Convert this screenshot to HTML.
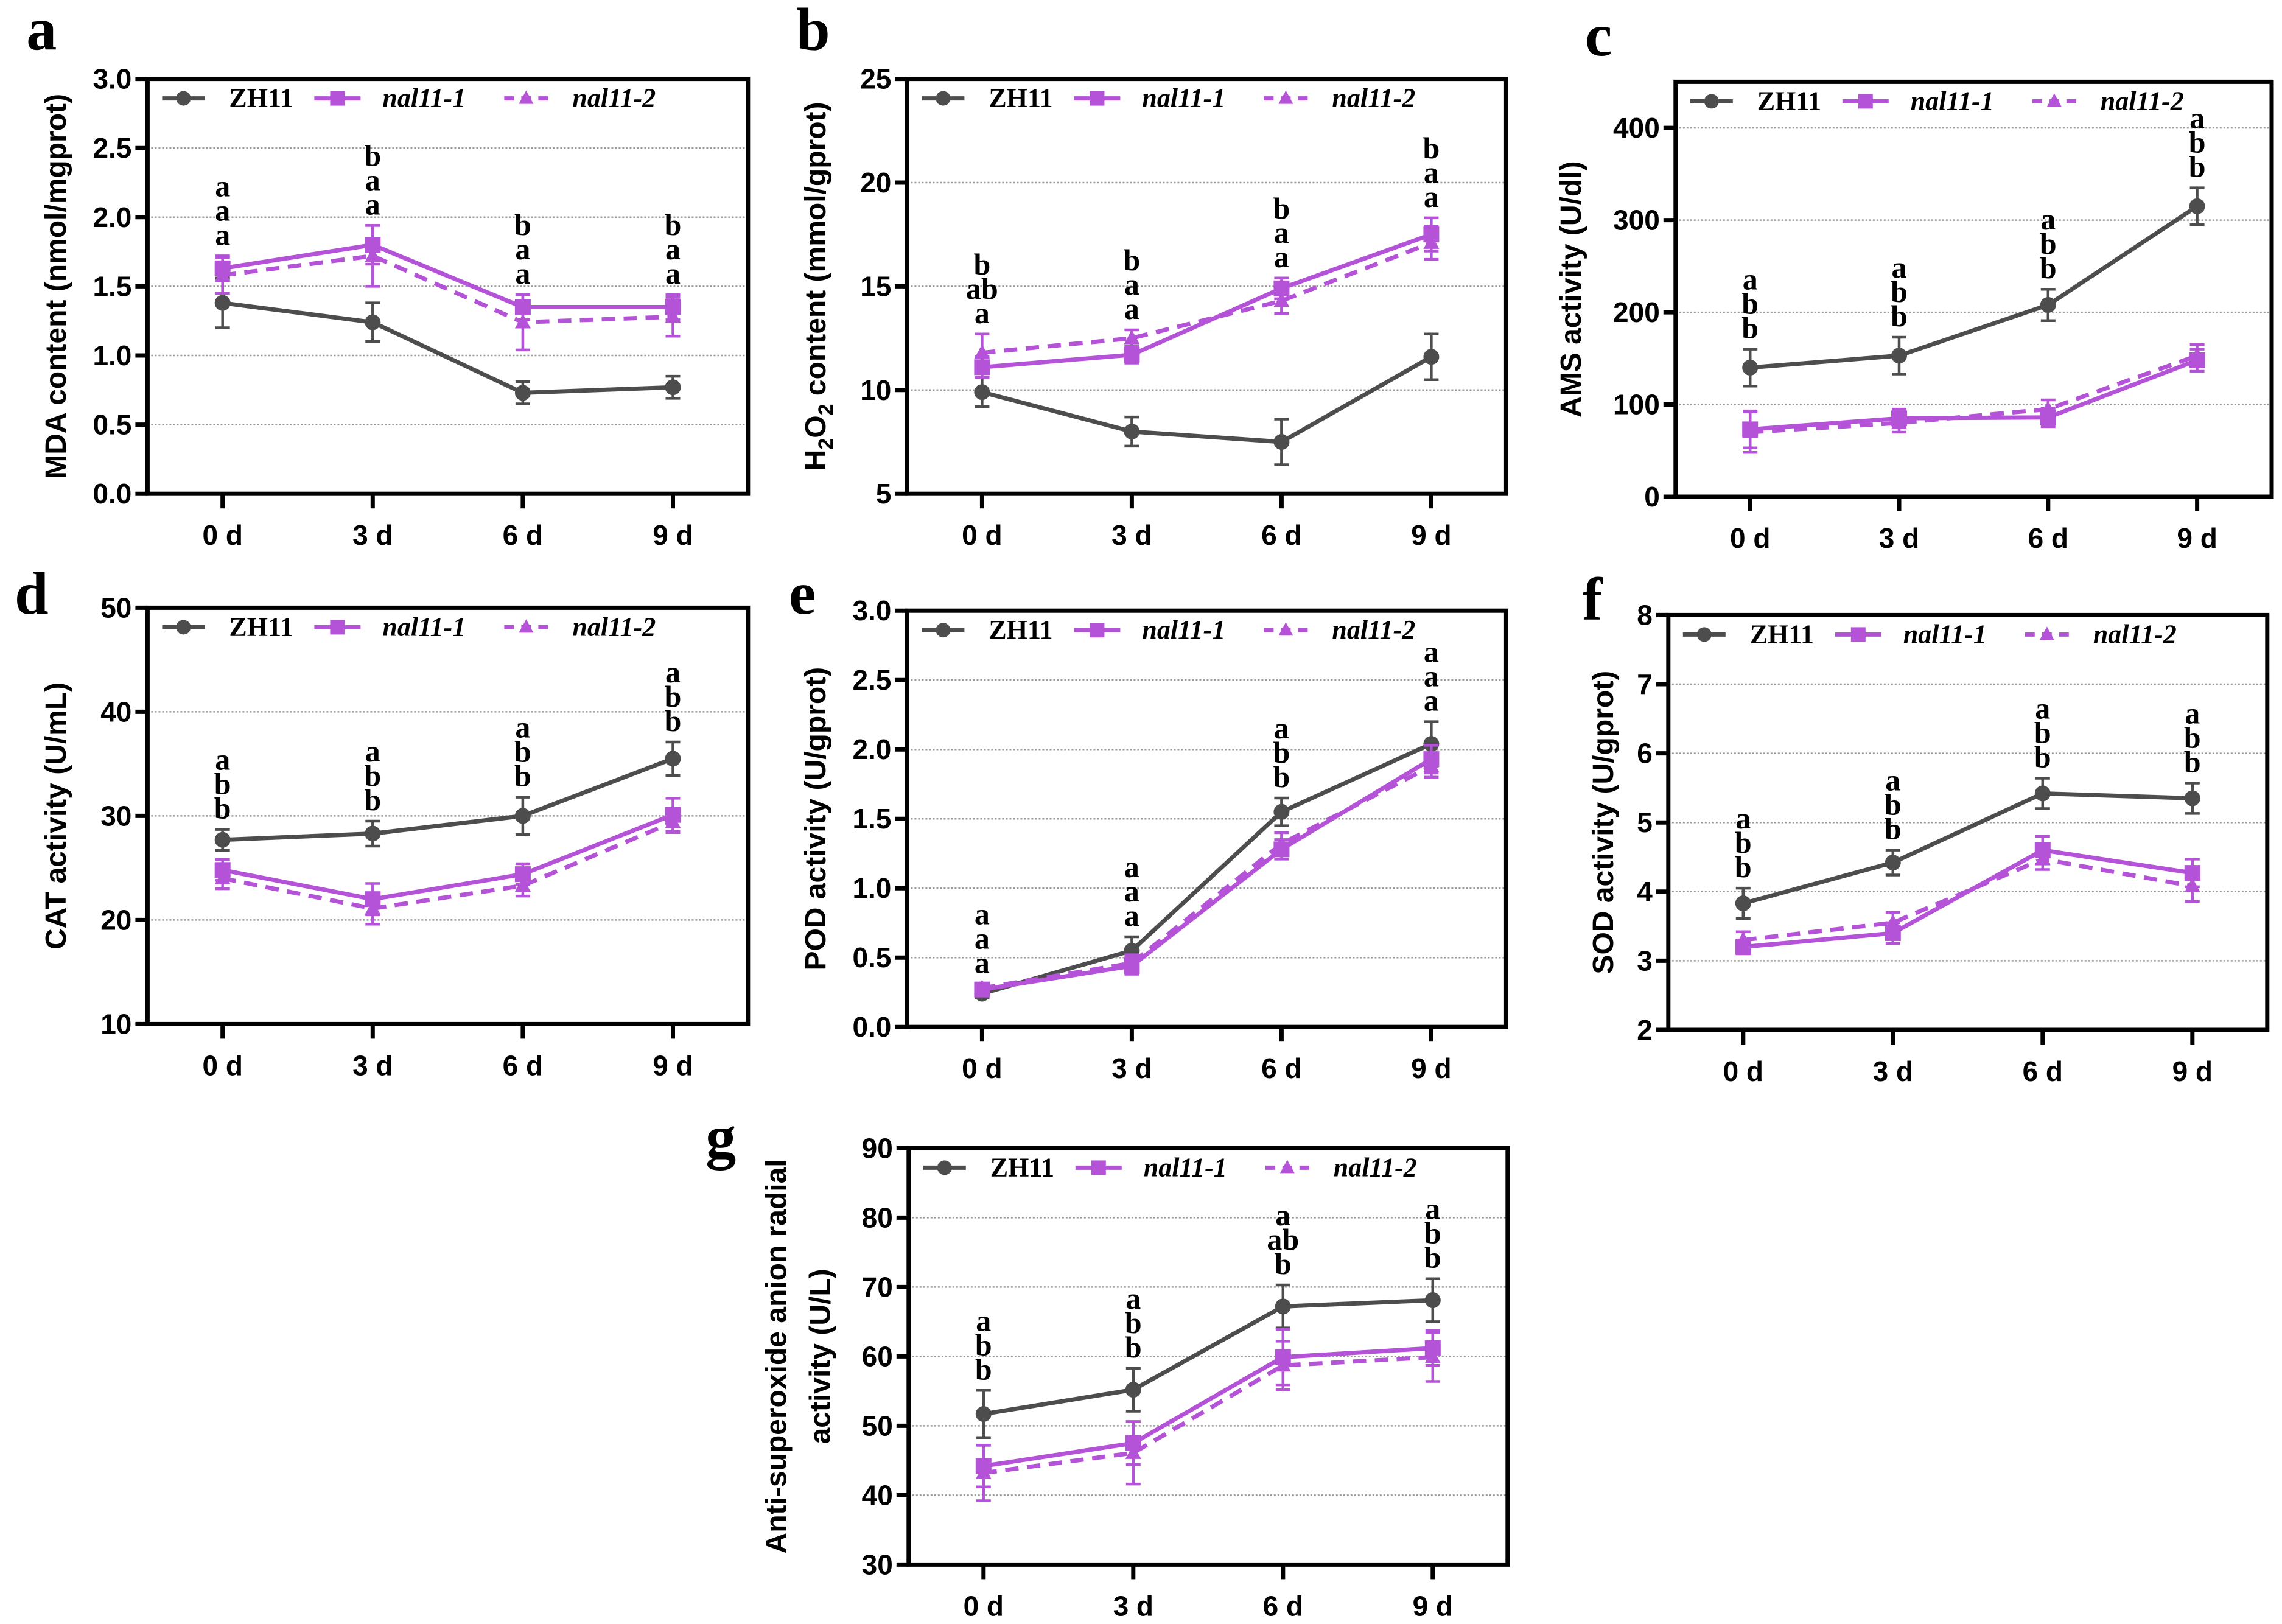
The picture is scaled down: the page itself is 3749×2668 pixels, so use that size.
<!DOCTYPE html>
<html><head><meta charset="utf-8"><style>
html,body{margin:0;padding:0;background:#fff;}
svg{display:block;}
</style></head><body>
<svg id="fig" xmlns="http://www.w3.org/2000/svg" width="3749" height="2668" viewBox="0 0 3749 2668"></svg>
<script>
// ---- data (per panel: mean & error per series, letters top-to-bottom) ----
const days = ["0 d","3 d","6 d","9 d"];
const seriesNames = ["ZH11","nal11-1","nal11-2"];

const aZH = [1.38,1.24,0.73,0.77], aZHe=[0.18,0.14,0.08,0.08];
const aN1 = [1.63,1.80,1.35,1.35], aN1e=[0.09,0.14,0.09,0.09];
const aN2 = [1.58,1.72,1.24,1.28], aN2e=[0.13,0.22,0.20,0.14];
const aLet = [["a","a","a"],["b","a","a"],["b","a","a"],["b","a","a"]];

const bZH = [9.9,8.0,7.5,11.6], bZHe=[0.7,0.7,1.1,1.1];
const bN1 = [11.1,11.7,14.9,17.5], bN1e=[0.5,0.4,0.5,0.8];
const bN2 = [11.8,12.5,14.3,17.1], bN2e=[0.9,0.4,0.6,0.8];
const bLet = [["b","ab","a"],["b","a","a"],["b","a","a"],["b","a","a"]];

const cZH = [140,153,208,315], cZHe=[20,20,17,20];
const cN1 = [73,85,86,148], cN1e=[20,10,10,12];
const cN2 = [70,80,95,153], cN2e=[22,10,10,12];
const cLet = [["a","b","b"],["a","b","b"],["a","b","b"],["a","b","b"]];

const dZH = [27.7,28.3,30.0,35.5], dZHe=[1.0,1.2,1.8,1.6];
const dN1 = [24.8,22.0,24.4,30.1], dN1e=[1.0,1.5,1.0,1.6];
const dN2 = [24.0,21.1,23.3,29.4], dN2e=[1.0,1.5,1.0,1.0];
const dLet = [["a","b","b"],["a","b","b"],["a","b","b"],["a","b","b"]];

const eZH = [0.24,0.55,1.55,2.04], eZHe=[0.03,0.10,0.10,0.16];
const eN1 = [0.27,0.44,1.28,1.93], eN1e=[0.03,0.06,0.07,0.10];
const eN2 = [0.28,0.46,1.32,1.88], eN2e=[0.03,0.06,0.08,0.08];
const eLet = [["a","a","a"],["a","a","a"],["a","b","b"],["a","a","a"]];

const fZH = [3.83,4.42,5.42,5.35], fZHe=[0.22,0.18,0.22,0.22];
const fN1 = [3.20,3.40,4.60,4.27], fN1e=[0.10,0.15,0.20,0.20];
const fN2 = [3.30,3.55,4.47,4.08], fN2e=[0.12,0.15,0.15,0.22];
const fLet = [["a","b","b"],["a","b","b"],["a","b","b"],["a","b","b"]];

const gZH = [51.7,55.2,67.2,68.1], gZHe=[3.4,3.1,3.1,3.1];
const gN1 = [44.2,47.5,59.9,61.2], gN1e=[3.0,3.1,4.0,2.5];
const gN2 = [43.2,46.1,58.7,59.9], gN2e=[4.0,4.5,3.5,3.5];
const gLet = [["a","b","b"],["a","b","b"],["a","ab","b"],["a","b","b"]];

const aTicks=["0.0","0.5","1.0","1.5","2.0","2.5","3.0"];
const bTicks=["5","10","15","20","25"];
const cTicks=["0","100","200","300","400"];
const dTicks=["10","20","30","40","50"];
const eTicks=["0.0","0.5","1.0","1.5","2.0","2.5","3.0"];
const fTicks=["2","3","4","5","6","7","8"];
const gTicks=["30","40","50","60","70","80","90"];

const K=2.4;
const GREY="#4d4d4d", PURPLE="#b452d8";
const NS="http://www.w3.org/2000/svg";
const svg=document.getElementById('fig');
function mk(tag,attrs,parent){const e=document.createElementNS(NS,tag);for(const k in attrs)e.setAttribute(k,attrs[k]);(parent||svg).appendChild(e);return e;}

const panels=[
 {id:"a",L:101,T:54,R:512,B:338,ymin:0,ymax:3,ticks:aTicks,s:[[aZH,aZHe],[aN1,aN1e],[aN2,aN2e]],let:aLet,lab:["MDA content (nmol/mgprot)"],labX:[38],px:18,py:34},
 {id:"b",L:621,T:54,R:1031,B:338,ymin:5,ymax:25,ticks:bTicks,s:[[bZH,bZHe],[bN1,bN1e],[bN2,bN2e]],let:bLet,lab:["H2O2"],labX:[558],px:545,py:34},
 {id:"c",L:1147,T:56,R:1555,B:340,ymin:0,ymax:450,ticks:cTicks,s:[[cZH,cZHe],[cN1,cN1e],[cN2,cN2e]],let:cLet,lab:["AMS activity (U/dl)"],labX:[1075],px:1085,py:38},
 {id:"d",L:101,T:416,R:512,B:701,ymin:10,ymax:50,ticks:dTicks,s:[[dZH,dZHe],[dN1,dN1e],[dN2,dN2e]],let:dLet,lab:["CAT activity (U/mL)"],labX:[38],px:10,py:420},
 {id:"e",L:621,T:418,R:1031,B:703,ymin:0,ymax:3,ticks:eTicks,s:[[eZH,eZHe],[eN1,eN1e],[eN2,eN2e]],let:eLet,lab:["POD activity (U/gprot)"],labX:[558],px:540,py:420},
 {id:"f",L:1142,T:421,R:1552,B:705,ymin:2,ymax:8,ticks:fTicks,s:[[fZH,fZHe],[fN1,fN1e],[fN2,fN2e]],let:fLet,lab:["SOD activity (U/gprot)"],labX:[1097],px:1083,py:424},
 {id:"g",L:622,T:786,R:1032,B:1071,ymin:30,ymax:90,ticks:gTicks,s:[[gZH,gZHe],[gN1,gN1e],[gN2,gN2e]],let:gLet,lab:["Anti-superoxide anion radial","activity (U/L)"],labX:[531,561],px:483,py:792}
];

panels.forEach(p=>{
 const L=p.L*K,T=p.T*K,R=p.R*K,B=p.B*K,W=R-L;
 const g=mk('g',{});
 
 
 const y=v=>B-(v-p.ymin)/(p.ymax-p.ymin)*(B-T);
 const x=i=>L+0.125*W+i*0.25*W;
 // panel letter
 const pl=mk('text',{x:p.px*K,y:p.py*K,'font-family':'Liberation Serif, serif','font-weight':'bold','font-size':100,fill:'#000'},g);
 pl.textContent=p.id;
 
 
 // gridlines
 p.ticks.forEach(t=>{const v=parseFloat(t);if(v<=p.ymin)return;
  const gl=mk('line',{x1:L,x2:R,y1:y(v),y2:y(v),stroke:'#9a9a9a','stroke-width':2.5,'stroke-dasharray':'3,3'},g);
  
  
 });
 // y ticks
 p.ticks.forEach(t=>{const v=parseFloat(t);
  const tk=mk('line',{x1:L-20,x2:L,y1:y(v),y2:y(v),stroke:'#000','stroke-width':7},g);
  
  
  const tl=mk('text',{x:L-26,y:y(v)+16,'text-anchor':'end','font-family':'Liberation Sans, sans-serif','font-weight':'bold','font-size':46,fill:'#000'},g);
  tl.textContent=t;
  
  
 });
 // x ticks
 days.forEach((d,i)=>{
  const tk=mk('line',{x1:x(i),x2:x(i),y1:B,y2:B+24,stroke:'#000','stroke-width':7},g);
  
  
  const tl=mk('text',{x:x(i),y:B+84,'text-anchor':'middle','font-family':'Liberation Sans, sans-serif','font-weight':'bold','font-size':46,fill:'#000'},g);
  tl.textContent=d;
  
  
 });
 // frame
 const fr=mk('rect',{x:L,y:T,width:W,height:B-T,fill:'none',stroke:'#000','stroke-width':7},g);
 
 
 // y label
 const cy=(T+B)/2;
 p.lab.forEach((lb,j)=>{
  const t=mk('text',{transform:`translate(${p.labX[j]*K+17},${cy}) rotate(-90)`,'text-anchor':'middle','font-family':'Liberation Sans, sans-serif','font-weight':'bold','font-size':48,fill:'#000'},g);
  if(lb==="H2O2"){
   t.innerHTML='H<tspan font-size="34" dy="12">2</tspan><tspan dy="-12">O</tspan><tspan font-size="34" dy="12">2</tspan><tspan dy="-12"> content (mmol/gprot)</tspan>';
  } else t.textContent=lb;
  
  
 });
 // series
 const cols=[GREY,PURPLE,PURPLE];
 const order=[0,2,1];
 order.forEach(si=>{
  const [m,e]=p.s[si];
  const col=cols[si];
  const pts=m.map((v,i)=>x(i)+','+y(v)).join(' ');
  const ln=mk('polyline',{points:pts,fill:'none',stroke:col,'stroke-width':7,'stroke-dasharray':si===2?'22,14':'none'},g);
  
  
  m.forEach((v,i)=>{
   const xx=x(i);
   const eb=mk('path',{d:`M${xx},${y(v-e[i])}V${y(v+e[i])}M${xx-12},${y(v+e[i])}H${xx+12}M${xx-12},${y(v-e[i])}H${xx+12}`,stroke:col,'stroke-width':4.5,fill:'none'},g);
   
   
   let mkr;
   if(si===0) mkr=mk('circle',{cx:xx,cy:y(v),r:13,fill:col},g);
   else if(si===1) mkr=mk('rect',{x:xx-13,y:y(v)-13,width:26,height:26,fill:col},g);
   else mkr=mk('path',{d:`M${xx},${y(v)-14}L${xx+13},${y(v)+10}L${xx-13},${y(v)+10}Z`,fill:col},g);
   
   
  });
 });
 // significance letters
 days.forEach((d,i)=>{
  let top=Infinity;
  p.s.forEach(([m,e])=>{top=Math.min(top,y(m[i]+e[i]));});
  const lets=p.let[i];
  lets.forEach((l,k)=>{
   const t=mk('text',{x:x(i),y:top-18-(lets.length-1-k)*40,'text-anchor':'middle','font-family':'Liberation Serif, serif','font-weight':'bold','font-size':50,fill:'#000'},g);
   t.textContent=l;
   
   
  });
 });
 // legend
 const ly=T+32;
 const lg=mk('g',{},g);
 
 
 const items=[[24,94,134,'ZH11',0],[274,350,386,'nal11-1',1],[586,658,698,'nal11-2',2]];
 items.forEach(([a,b,tx,name,si])=>{
  const col=cols[si];
  const e=mk('g',{},lg);
  
  
  mk('line',{x1:L+a,x2:L+b,y1:ly,y2:ly,stroke:col,'stroke-width':7,'stroke-dasharray':si===2?'16,12':'none'},e);
  const cx=L+(a+b)/2;
  if(si===0) mk('circle',{cx:cx,cy:ly,r:12,fill:col},e);
  else if(si===1) mk('rect',{x:cx-12,y:ly-12,width:24,height:24,fill:col},e);
  else mk('path',{d:`M${cx},${ly-13}L${cx+12},${ly+9}L${cx-12},${ly+9}Z`,fill:col},e);
  const t=mk('text',{x:L+tx,y:ly+14,'font-family':'Liberation Serif, serif','font-weight':'bold','font-style':si===0?'normal':'italic','font-size':44,fill:'#000'},e);
  t.textContent=name;
 });
});
</script>
</body></html>
